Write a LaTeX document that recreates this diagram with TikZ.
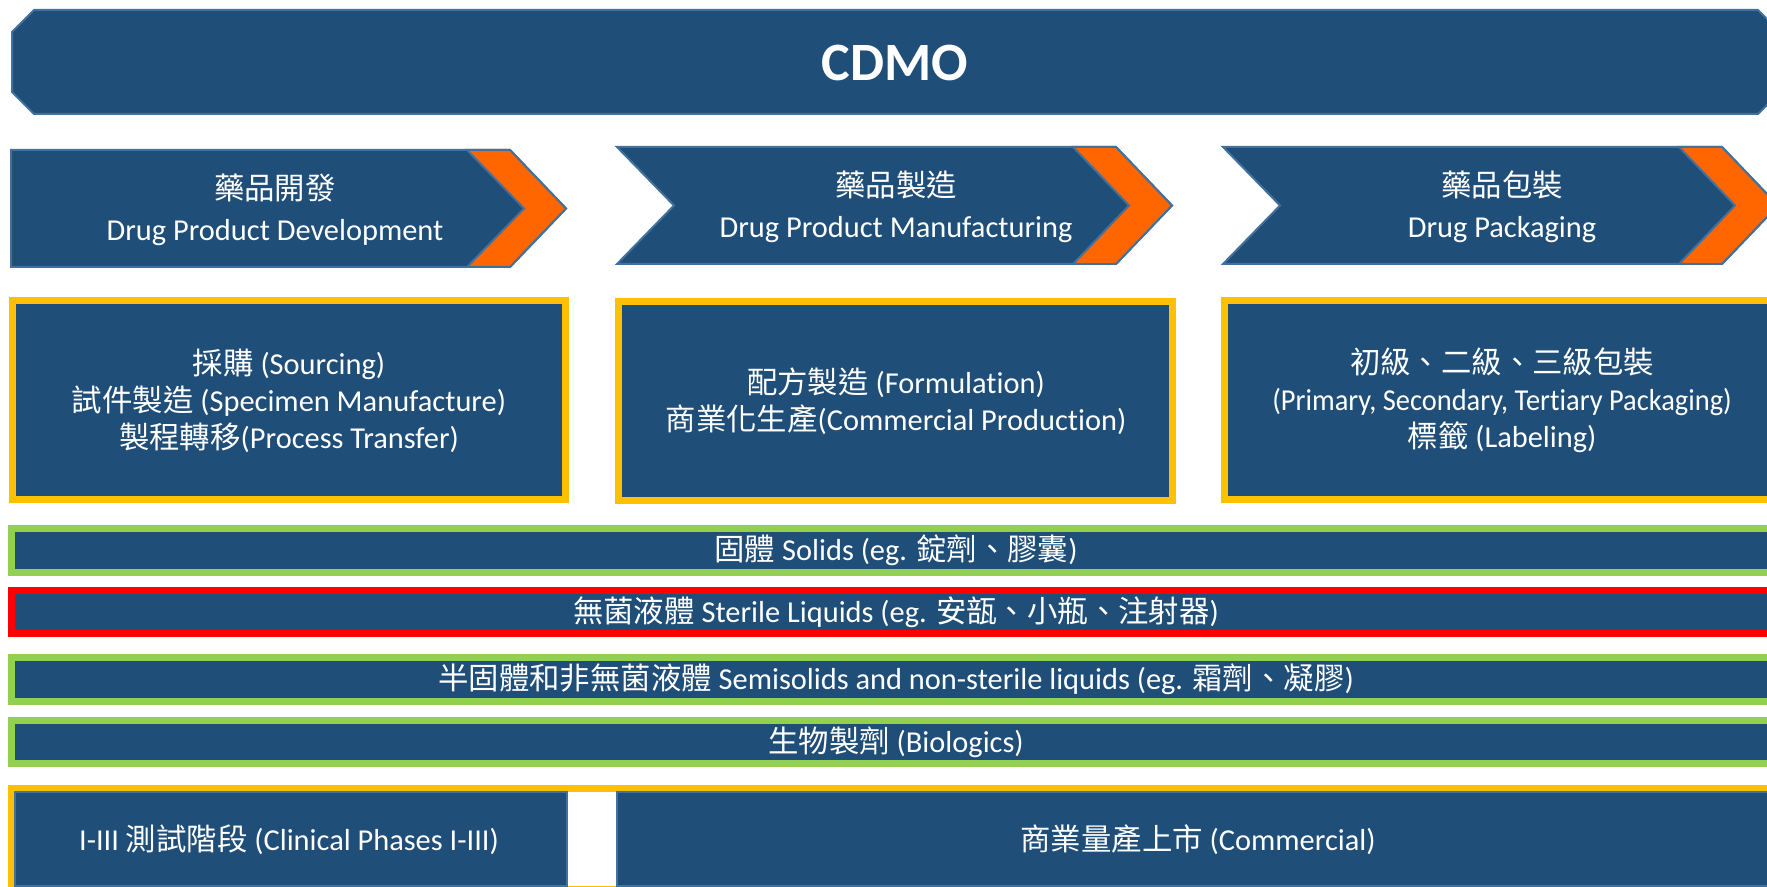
\documentclass[tikz,border=0pt]{standalone}
\usepackage{fontspec}
\setmainfont{Carlito}[Ligatures=CommonOff]
\newfontfamily\cjkf{Noto Sans CJK TC}
\newcommand\zh[1]{{\cjkf #1}}
\definecolor{dblue}{HTML}{1F4E79}
\definecolor{oblue}{HTML}{41719C}
\definecolor{forange}{HTML}{FF6600}
\definecolor{fyellow}{HTML}{FFC000}
\definecolor{fgreen}{HTML}{92D050}
\definecolor{fred}{HTML}{FF0000}
\tikzset{
  bluefill/.style={fill=dblue, draw=oblue, line width=1pt, line join=miter},
  orangefill/.style={fill=forange, draw=oblue, line width=1pt},
  framed/.style={fill=dblue, draw=#1, line width=3.5pt},
  lbl/.style={text=white, align=center, inner sep=0pt, font=\fontsize{15.2}{18.5}\selectfont},
  chevlbl/.style={text=white, align=center, inner sep=0pt, font=\fontsize{15.2}{20.3}\selectfont},
}
\begin{document}
\begin{tikzpicture}[x=0.5pt, y=-0.5pt]
\useasboundingbox (0,0) rectangle (1767,887);
\clip (0,0) rectangle (1767,887);
\fill[white] (0,0) rectangle (1767,887);
% banner
\draw[bluefill] (12,32) -- (34,10) -- (1758,10) -- (1780,32) -- (1780,92) -- (1758,114) -- (34,114) -- (12,92) -- cycle;
\node[text=white, font=\fontsize{27}{30}\selectfont\bfseries] (cdmo) at (895,63) {CDMO};
% chevrons
\draw[bluefill] (11,150) -- (510,150) -- (566,208.5) -- (510,267) -- (11,267) -- cycle;
\draw[orangefill] (467,150) -- (510,150) -- (566,208.5) -- (510,267) -- (467,267) -- (524,208.5) -- cycle;
\draw[bluefill] (617,147) -- (1116,147) -- (1172,205.5) -- (1116,264) -- (617,264) -- (674,205.5) -- cycle;
\draw[orangefill] (1073,147) -- (1116,147) -- (1172,205.5) -- (1116,264) -- (1073,264) -- (1129,205.5) -- cycle;
\draw[bluefill] (1223,147) -- (1722,147) -- (1778,205.5) -- (1722,264) -- (1223,264) -- (1280,205.5) -- cycle;
\draw[orangefill] (1679,147) -- (1722,147) -- (1778,205.5) -- (1722,264) -- (1679,264) -- (1735,205.5) -- cycle;
\node[chevlbl] (c1) at (275,210) {\zh{藥品開發}\\Drug Product Development};
\node[chevlbl] (c2) at (896,207) {\zh{藥品製造}\\Drug Product Manufacturing};
\node[chevlbl] (c3) at (1502,207) {\zh{藥品包裝}\\Drug Packaging};
% boxes
\draw[framed=fyellow] (12.5,300.5) rectangle (565.5,499.5);
\draw[framed=fyellow] (618.5,301.5) rectangle (1172.5,500.5);
\draw[framed=fyellow] (1224.5,300.5) rectangle (1790,499.5);
\node[lbl] (b1) at (289,400.5) {\zh{採購} (Sourcing)\\\zh{試件製造} (Specimen Manufacture)\\\zh{製程轉移}(Process Transfer)};
\node[lbl] (b2) at (896,401) {\zh{配方製造} (Formulation)\\\zh{商業化生產}(Commercial Production)};
\node[lbl] (b3) at (1502,400.5) {\zh{初級、二級、三級包裝}\\\scalebox{0.935}[1]{(Primary, Secondary, Tertiary Packaging)}\\\zh{標籤} (Labeling)};
% strips
\draw[framed=fgreen] (11.5,528.5) rectangle (1790,572.5);
\draw[framed=fred] (11.5,590.5) rectangle (1790,633.5);
\draw[framed=fgreen] (11.5,657.5) rectangle (1790,701.5);
\draw[framed=fgreen] (11.5,720.5) rectangle (1790,763.5);
\node[lbl] (s1) at (896,550.5) {\zh{固體} Solids (eg. \zh{錠劑、膠囊})};
\node[lbl] (s2) at (896,612) {\zh{無菌液體} Sterile Liquids (eg. \zh{安瓿、小瓶、注射器})};
\node[lbl] (s3) at (896,679.5) {\zh{半固體和非無菌液體} Semisolids and non-sterile liquids (eg. \zh{霜劑、凝膠})};
\node[lbl] (s4) at (896,742) {\zh{生物製劑} (Biologics)};
% bottom row
\draw[draw=fyellow, line width=3.5pt] (11.5,788.5) rectangle (1790,889.5);
\draw[bluefill] (15,792) rectangle (567,886);
\draw[bluefill] (617,792) rectangle (1790,886);
\node[lbl] (p1) at (289,840) {I-III \zh{測試階段} (Clinical Phases I-III)};
\node[lbl] (p2) at (1198,840) {\zh{商業量產上市} (Commercial)};
\end{tikzpicture}
\end{document}
